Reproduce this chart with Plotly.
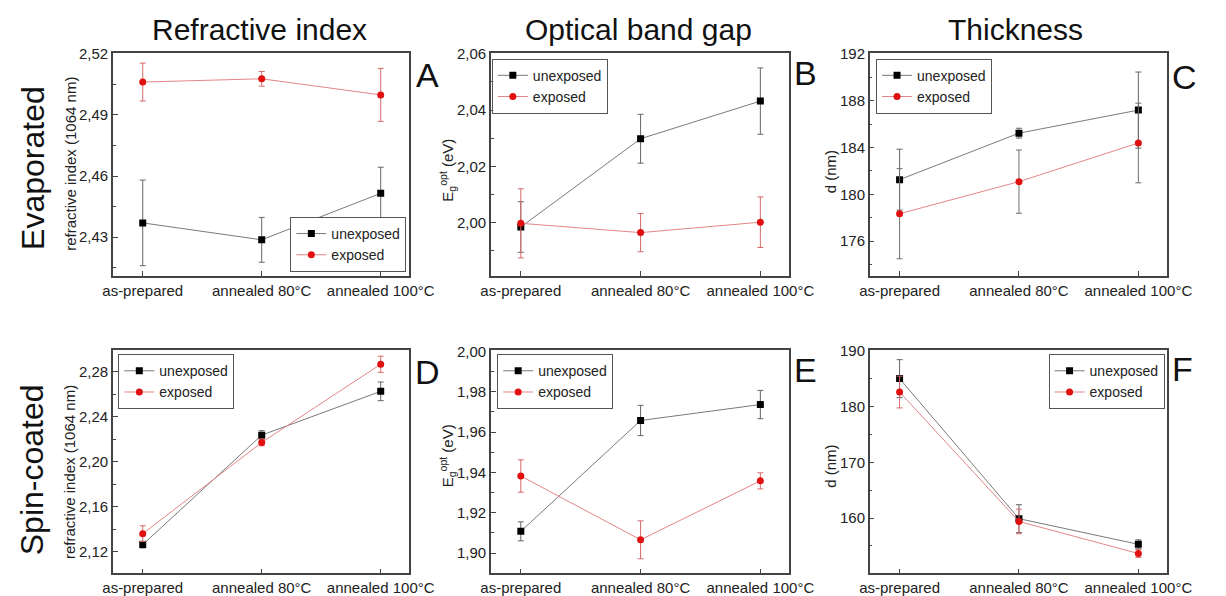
import plotly.graph_objects as go

categories = ["as-prepared", "annealed 80°C", "annealed 100°C"]

# Panel A: Evaporated, refractive index
a_unexp = [2.437, 2.4287, 2.4515]
a_unexp_err = [0.021, 0.011, 0.0128]
a_exp = [2.5061, 2.5077, 2.4998]
a_exp_err = [0.0093, 0.0036, 0.013]
# Panel B: Evaporated, optical band gap
b_unexp = [1.9984, 2.0298, 2.0432]
b_unexp_err = [0.009, 0.0087, 0.0118]
b_exp = [1.9997, 1.9964, 2.0001]
b_exp_err = [0.0123, 0.0068, 0.009]
# Panel C: Evaporated, thickness
c_unexp = [181.26, 185.23, 187.2]
c_unexp_err = [2.6, 0.42, 3.25]
c_exp = [178.35, 181.09, 184.39]
c_exp_err = [3.85, 2.7, 3.4]
# Panel D: Spin-coated, refractive index
d_unexp = [2.1262, 2.2236, 2.2626]
d_unexp_err = [0.003, 0.004, 0.0083]
d_exp = [2.1359, 2.2171, 2.2867]
d_exp_err = [0.007, 0.003, 0.0072]
# Panel E: Spin-coated, optical band gap
e_unexp = [1.9108, 1.9657, 1.9736]
e_unexp_err = [0.0047, 0.0075, 0.007]
e_exp = [1.9382, 1.9066, 1.9358]
e_exp_err = [0.008, 0.0094, 0.004]
# Panel F: Spin-coated, thickness
f_unexp = [185.0, 159.9, 155.3]
f_unexp_err = [3.4, 2.5, 0.8]
f_exp = [182.6, 159.4, 153.65]
f_exp_err = [2.85, 2.2, 0.7]

col_titles = ["Refractive index", "Optical band gap", "Thickness"]
row_titles = ["Evaporated", "Spin-coated"]
panel_letters = ["A", "B", "C", "D", "E", "F"]
y_titles = ["refractive index (1064 nm)", "E<sub>g</sub><sup>opt</sup> (eV)", "d (nm)"]

W, H = 1226, 596
FONT = "Liberation Sans, Arial, sans-serif"

col_px = [(106, 411), (495, 802), (885, 1191)]
row_px = [(46, 272), (347.7, 574)]

panels = [
    dict(u=a_unexp, ue=a_unexp_err, e=a_exp, ee=a_exp_err, yr=[2.411, 2.5202], tick0=2.43, dt=0.03, mdt=0.015, fmt=".2f", exp_err_col="#d86a6a"),
    dict(u=b_unexp, ue=b_unexp_err, e=b_exp, ee=b_exp_err, yr=[1.981, 2.0602], tick0=2.0, dt=0.02, mdt=0.01, fmt=".2f", exp_err_col="#d86a6a"),
    dict(u=c_unexp, ue=c_unexp_err, e=c_exp, ee=c_exp_err, yr=[173.04, 192.05], tick0=176, dt=4, mdt=2, fmt="d", exp_err_col="#707070"),
    dict(u=d_unexp, ue=d_unexp_err, e=d_exp, ee=d_exp_err, yr=[2.1006, 2.299], tick0=2.12, dt=0.04, mdt=0.02, fmt=".2f", exp_err_col="#d86a6a"),
    dict(u=e_unexp, ue=e_unexp_err, e=e_exp, ee=e_exp_err, yr=[1.89, 2.0004], tick0=1.9, dt=0.02, mdt=0.01, fmt=".2f", exp_err_col="#d86a6a"),
    dict(u=f_unexp, ue=f_unexp_err, e=f_exp, ee=f_exp_err, yr=[150.1, 190.05], tick0=160, dt=10, mdt=5, fmt="d", exp_err_col="#d86a6a"),
]

# legend placements (px): (x, y, xanchor, yanchor)
legend_pos = [
    (408, 268, "right", "bottom"),
    (496, 51.5, "left", "top"),
    (891.5, 51.5, "left", "top"),
    (111.5, 351.5, "left", "top"),
    (501.5, 351.5, "left", "top"),
    (1188.5, 351.5, "right", "top"),
]

fig = go.Figure()
layout = dict(
    width=W, height=H, margin=dict(l=0, r=0, t=0, b=0),
    paper_bgcolor="white", plot_bgcolor="white",
    separators=",.",
    font=dict(family=FONT, size=15, color="#222"),
    annotations=[],
)

for i, p in enumerate(panels):
    r, c = divmod(i, 3)
    n = i + 1
    xa = "x" if n == 1 else f"x{n}"
    ya = "y" if n == 1 else f"y{n}"
    leg = "legend" if n == 1 else f"legend{n}"
    fig.add_trace(go.Scatter(
        x=categories, y=p["u"], name="unexposed", mode="lines+markers",
        line=dict(color="#7a7a7a", width=1),
        marker=dict(symbol="square", size=7, color="#000000"),
        error_y=dict(type="data", array=p["ue"], color="#666666", thickness=1, width=3),
        xaxis=xa, yaxis=ya, legend=leg,
    ))
    fig.add_trace(go.Scatter(
        x=categories, y=p["e"], name="exposed", mode="lines+markers",
        line=dict(color="#e58585", width=1),
        marker=dict(symbol="circle", size=7, color="#e01010"),
        error_y=dict(type="data", array=p["ee"], color=p["exp_err_col"], thickness=1, width=3),
        xaxis=xa, yaxis=ya, legend=leg,
    ))
    x0, x1 = col_px[c]
    y0, y1 = row_px[r]
    xkey = "xaxis" if n == 1 else f"xaxis{n}"
    ykey = "yaxis" if n == 1 else f"yaxis{n}"
    layout[xkey] = dict(
        domain=[x0 / W, x1 / W], anchor=ya, type="category",
        range=[-0.25, 2.24], showline=True, mirror=True, linecolor="#444", linewidth=1.5,
        ticks="inside", ticklen=5, tickcolor="#444", showgrid=False, zeroline=False,
        tickfont=dict(size=15, color="#222"),
    )
    layout[ykey] = dict(
        domain=[1 - y1 / H, 1 - y0 / H], anchor=xa,
        range=p["yr"], tick0=p["tick0"], dtick=p["dt"], tickformat=p["fmt"],
        showline=True, mirror=True, linecolor="#444", linewidth=1.5,
        ticks="inside", ticklen=5, tickcolor="#444", showgrid=False, zeroline=False,
        minor=dict(ticks="inside", ticklen=3, tickcolor="#444", tick0=p["tick0"], dtick=p["mdt"], showgrid=False),
        tickfont=dict(size=15, color="#222"),
    )
    lx, ly, xan, yan = legend_pos[i]
    layout[leg] = dict(
        x=lx / W, y=1 - ly / H, xanchor=xan, yanchor=yan,
        bgcolor="white", bordercolor="#555", borderwidth=1,
        font=dict(size=14, color="#222", family=FONT),
        tracegroupgap=0, itemwidth=30,
    )

ann = layout["annotations"]


def add_text(text, x, y, size, color="#111", angle=0):
    ann.append(dict(text=text, x=x / W, y=1 - y / H, xref="paper", yref="paper",
                    xanchor="center", yanchor="middle", textangle=angle,
                    showarrow=False, font=dict(size=size, color=color, family=FONT)))


# column titles
for t, x in zip(col_titles, [257, 647, 1035]):
    add_text(t, x, 22, 30)
# row titles
for t, y in zip(row_titles, [162, 469]):
    add_text(t, 23, y, 32, angle=-90)
# panel letters
letter_pos = [(430, 68), (818.5, 66), (1209, 70), (430, 370), (818.5, 368), (1207, 367)]
for t, (x, y) in zip(panel_letters, letter_pos):
    add_text(t, x, y, 34)
# y axis titles
ytitle_pos = [(62, 158), (450, 165), (845, 166), (62, 471), (450, 455), (845, 465)]
for i, (x, y) in enumerate(ytitle_pos):
    add_text(y_titles[i % 3], x, y, 15, color="#222", angle=-90)

fig.update_layout(**layout)
fig.write_html(
    "out.html",
    post_script="document.body.style.margin='0px';document.body.style.overflow='hidden';",
)
